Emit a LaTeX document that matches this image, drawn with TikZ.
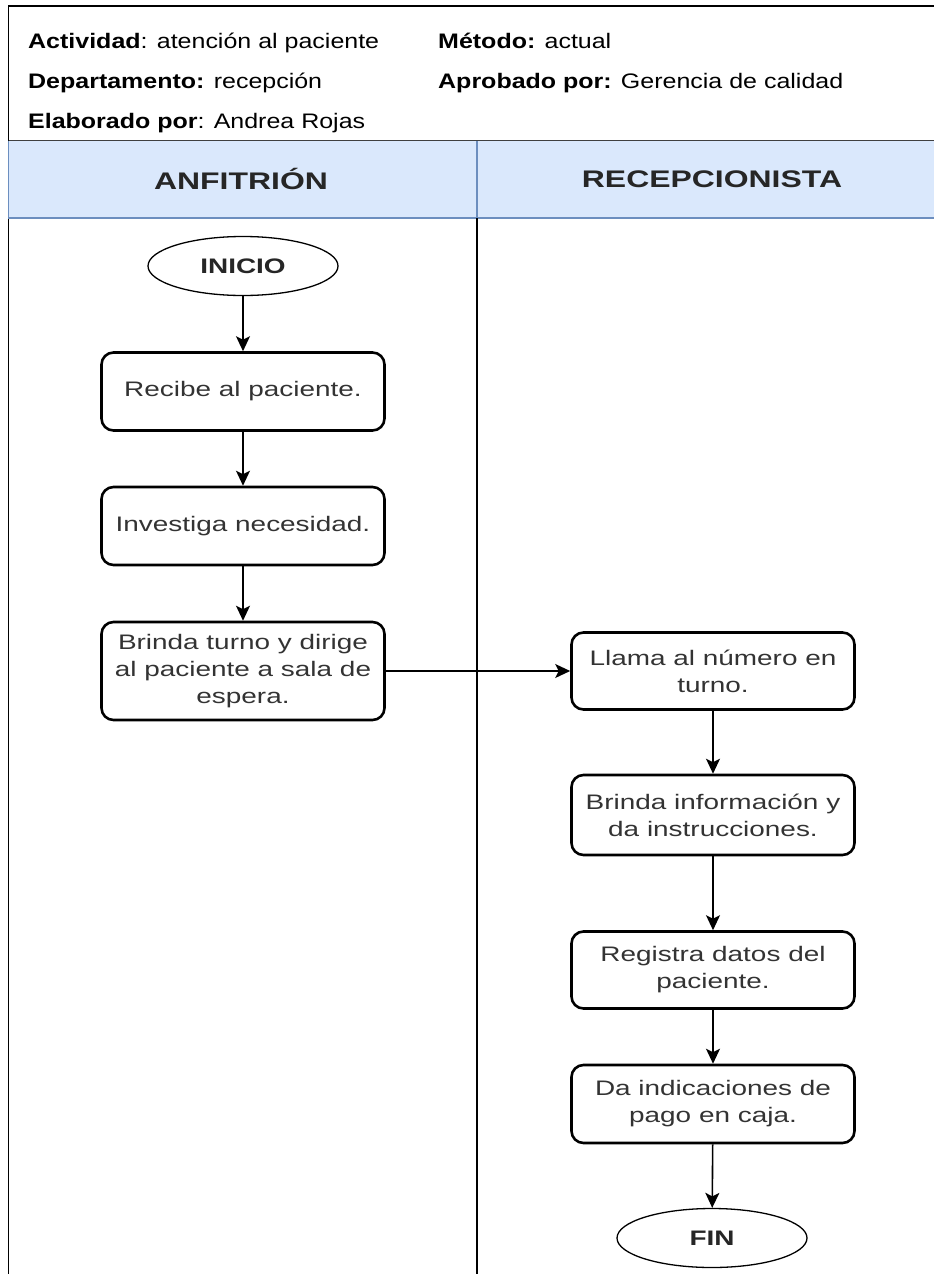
\documentclass[tikz,border=0pt]{standalone}
\usepackage{fontspec}
\setmainfont{Liberation Sans}[FakeStretch=1.19]
\newfontfamily\boxfont{Liberation Sans}[FakeStretch=1.33]
\usetikzlibrary{shapes.geometric,arrows.meta}
\definecolor{lanefill}{HTML}{DAE8FC}
\definecolor{laneline}{HTML}{6C8EBF}

\begin{document}
\begin{tikzpicture}[
  x=1pt,
  y=-1pt,
  inner sep=0pt,
  box/.style={
    draw,
    line width=2.6pt,
    rounded corners=12pt,
    minimum width=283pt,
    minimum height=78pt,
    align=center,
    text=black!80,
    font=\boxfont\fontsize{21}{27}\selectfont
  },
  terminal/.style={
    draw,
    ellipse,
    line width=1.3pt,
    minimum width=190pt,
    minimum height=59pt,
    text=black!85,
    font=\boxfont\bfseries\fontsize{21}{25}\selectfont
  },
  info/.style={
    anchor=base west,
    font=\fontsize{21}{25}\selectfont
  },
  lane/.style={
    text=black!85,
    font=\boxfont\bfseries\fontsize{24}{28}\selectfont
  },
  a/.style={
    -{Stealth[length=15pt,width=14pt,inset=3.5pt]},
    line width=1.6pt
  }
  ]
  \useasboundingbox (0,0) rectangle (934,1274);

  % frame and lanes
  \draw [line width=1.6pt] (934,6) -- (8.5,6) -- (8.5,1274);
  \fill [lanefill] (8.5,140.5) rectangle (934,218);
  \draw [laneline,line width=1.6pt] (8.5,140.5) -- (8.5,218) -- (934,218);
  \draw [laneline,line width=1.6pt] (477,140.5) -- (477,218);
  \draw [black!75,line width=1.6pt] (8.5,140.5) -- (934,140.5);
  \draw [line width=1.6pt] (477,218) -- (477,1274);

  \node (actividad) [info] at (28,48) {\textbf{Actividad}: atención al paciente};
  \node (metodo) [info] at (438,48) {\textbf{Método:} actual};
  \node (departamento) [info] at (28,88) {\textbf{Departamento:} recepción};
  \node (aprobado) [info] at (438,88) {\textbf{Aprobado por:} Gerencia de calidad};
  \node (elaborado) [info] at (28,128) {\textbf{Elaborado por}: Andrea Rojas};

  \node (anfitrion) [lane] at (241,179) {ANFITRIÓN};
  \node (recepcionista) [lane] at (712,179) {RECEPCIONISTA};

  \node (inicio) [terminal] at (243,266) {INICIO};
  \node (recibe) [box] at (243,391.5) {Recibe al paciente.};
  \node (investiga) [box] at (243,526) {Investiga necesidad.};
  \node (brinda) [box,minimum height=98pt] at (243,671) {Brinda turno y dirige\\al paciente a sala de\\espera.};
  \node (llama) [box,minimum height=77pt] at (713,671) {Llama al número en\\turno.};
  \node (informa) [box,minimum height=80pt] at (713,815) {Brinda información y\\da instrucciones.};
  \node (registra) [box,minimum height=77pt] at (713,970) {Registra datos del\\paciente.};
  \node (pago) [box] at (713,1104) {Da indicaciones de\\pago en caja.};
  \node (fin) [terminal] at (712,1238) {FIN};

  \draw [a] (inicio) -- (recibe);
  \draw [a] (recibe) -- (investiga);
  \draw [a] (investiga) -- (brinda);
  \draw [a] (brinda) -- (llama);
  \draw [a] (llama) -- (informa);
  \draw [a] (informa) -- (registra);
  \draw [a] (registra) -- (pago);
  \draw [a] (pago) -- (fin);
\end{tikzpicture}
\end{document}
